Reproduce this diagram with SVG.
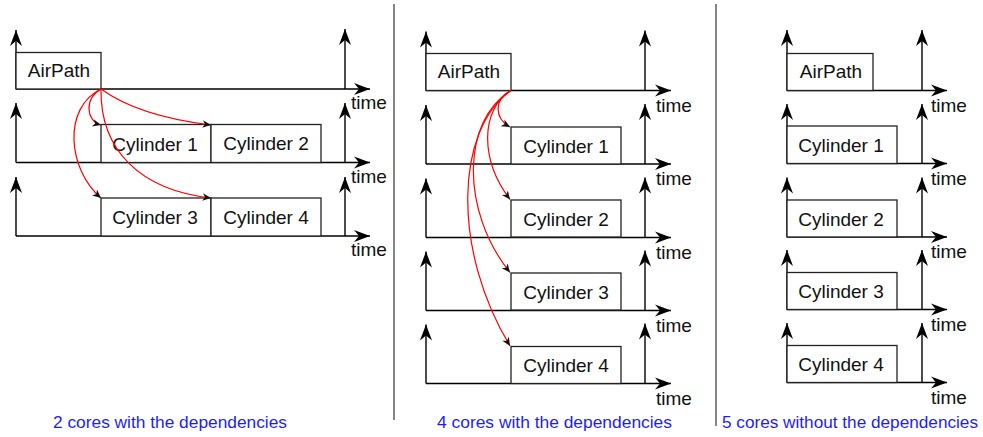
<svg xmlns="http://www.w3.org/2000/svg" width="983" height="437" viewBox="0 0 983 437">
<defs>
<marker id="ax" markerUnits="userSpaceOnUse" markerWidth="20" markerHeight="14" viewBox="-17 -7 18 14" refX="0" refY="0" orient="auto">
<path d="M0,0 L-16,-6 L-11,0 L-16,6 Z" fill="#000"/>
</marker>
<marker id="dep" markerUnits="userSpaceOnUse" markerWidth="10" markerHeight="9" viewBox="-9 -4.5 10 9" refX="0" refY="0" orient="auto">
<path d="M0,0 L-8.5,-3.8 L-6,0 L-8.5,3.8 Z" fill="#111"/>
</marker>
</defs>
<style>
.ax{stroke:#000;stroke-width:1.4;fill:none;marker-end:url(#ax)}
.box{fill:#fff;stroke:#222;stroke-width:1.3}
.lbl{font-family:"Liberation Sans",Arial,sans-serif;font-size:19px;fill:#111;text-anchor:middle}
.time{font-family:"Liberation Sans",Arial,sans-serif;font-size:19px;fill:#111}
.cap{font-family:"Liberation Sans",Arial,sans-serif;font-size:17.3px;fill:#1e1ef0}
.dep{stroke:#f00;stroke-width:1.2;fill:none;marker-end:url(#dep)}
.div{stroke:#444;stroke-width:1.3}
</style>
<rect width="983" height="437" fill="#fff"/>

<g id="dividers">
<line class="div" x1="394" y1="4" x2="394" y2="420"/>
<line class="div" x1="716" y1="4" x2="716" y2="426"/>
</g>

<g id="axes">
<!-- panel 1 -->
<path class="ax" d="M16,89 V30"/><path class="ax" d="M16,89 H370"/><path class="ax" d="M345,89 V29"/>
<path class="ax" d="M16,162.5 V103"/><path class="ax" d="M16,162.5 H370"/><path class="ax" d="M345,162.5 V103"/>
<path class="ax" d="M16,236 V177"/><path class="ax" d="M16,236 H370"/><path class="ax" d="M345,236 V177"/>
<!-- panel 2 -->
<path class="ax" d="M426,90.5 V31.5"/><path class="ax" d="M426,90.5 H671"/><path class="ax" d="M645,90.5 V30.5"/>
<path class="ax" d="M426,164 V105"/><path class="ax" d="M426,164 H671"/><path class="ax" d="M645,164 V104"/>
<path class="ax" d="M426,237.5 V178.5"/><path class="ax" d="M426,237.5 H671"/><path class="ax" d="M645,237.5 V177.5"/>
<path class="ax" d="M426,310.5 V251.5"/><path class="ax" d="M426,310.5 H671"/><path class="ax" d="M645,310.5 V250.5"/>
<path class="ax" d="M426,383.5 V324.5"/><path class="ax" d="M426,383.5 H671"/><path class="ax" d="M645,383.5 V323.5"/>
<!-- panel 3 -->
<path class="ax" d="M787,90.5 V30"/><path class="ax" d="M787,90.5 H947"/><path class="ax" d="M922,90.5 V30"/>
<path class="ax" d="M787,163.5 V104"/><path class="ax" d="M787,163.5 H947"/><path class="ax" d="M922,163.5 V104"/>
<path class="ax" d="M787,237 V177.5"/><path class="ax" d="M787,237 H947"/><path class="ax" d="M922,237 V177.5"/>
<path class="ax" d="M787,309.5 V250"/><path class="ax" d="M787,309.5 H947"/><path class="ax" d="M922,309.5 V250"/>
<path class="ax" d="M787,382.5 V323"/><path class="ax" d="M787,382.5 H947"/><path class="ax" d="M922,382.5 V323"/>
</g>

<g id="time-labels">
<text class="time" x="351" y="109">time</text>
<text class="time" x="351" y="183">time</text>
<text class="time" x="351" y="256">time</text>
<text class="time" x="656" y="111.5">time</text>
<text class="time" x="656" y="185">time</text>
<text class="time" x="656" y="258.5">time</text>
<text class="time" x="656" y="331.5">time</text>
<text class="time" x="656" y="404.5">time</text>
<text class="time" x="931" y="111.5">time</text>
<text class="time" x="931" y="184.5">time</text>
<text class="time" x="931" y="258">time</text>
<text class="time" x="931" y="330.5">time</text>
<text class="time" x="931" y="403.5">time</text>
</g>

<!-- Panel 1 nodes -->
<g id="p1-airpath"><rect class="box" x="16" y="52.5" width="85" height="36.5"/><text class="lbl" x="59" y="77">AirPath</text></g>
<g id="p1-cyl1"><rect class="box" x="101" y="124.5" width="110" height="38"/><text class="lbl" x="155" y="151">Cylinder 1</text></g>
<g id="p1-cyl2"><rect class="box" x="211" y="124.5" width="110" height="38"/><text class="lbl" x="266" y="150">Cylinder 2</text></g>
<g id="p1-cyl3"><rect class="box" x="101" y="198" width="110" height="38"/><text class="lbl" x="155" y="224">Cylinder 3</text></g>
<g id="p1-cyl4"><rect class="box" x="211" y="198" width="110" height="38"/><text class="lbl" x="266" y="224">Cylinder 4</text></g>

<!-- Panel 2 nodes -->
<g id="p2-airpath"><rect class="box" x="426" y="53.5" width="85" height="37"/><text class="lbl" x="469" y="78">AirPath</text></g>
<g id="p2-cyl1"><rect class="box" x="511" y="127" width="110" height="37"/><text class="lbl" x="566" y="152.5">Cylinder 1</text></g>
<g id="p2-cyl2"><rect class="box" x="511" y="200" width="110" height="37"/><text class="lbl" x="566" y="225.5">Cylinder 2</text></g>
<g id="p2-cyl3"><rect class="box" x="511" y="273" width="110" height="37"/><text class="lbl" x="566" y="298.5">Cylinder 3</text></g>
<g id="p2-cyl4"><rect class="box" x="511" y="346.5" width="110" height="37"/><text class="lbl" x="566" y="372">Cylinder 4</text></g>

<!-- Panel 3 nodes -->
<g id="p3-airpath"><rect class="box" x="787" y="53.5" width="86" height="37"/><text class="lbl" x="831" y="78">AirPath</text></g>
<g id="p3-cyl1"><rect class="box" x="787" y="126" width="110" height="37.5"/><text class="lbl" x="841" y="152">Cylinder 1</text></g>
<g id="p3-cyl2"><rect class="box" x="787" y="200" width="110" height="37"/><text class="lbl" x="841" y="225.5">Cylinder 2</text></g>
<g id="p3-cyl3"><rect class="box" x="787" y="272.5" width="110" height="37"/><text class="lbl" x="841" y="298">Cylinder 3</text></g>
<g id="p3-cyl4"><rect class="box" x="787" y="345.5" width="110" height="37"/><text class="lbl" x="841" y="371">Cylinder 4</text></g>

<g id="connectors">
<path class="dep" d="M101,89 C84,99 86,121 101,125"/>
<path class="dep" d="M101,89 C130,110 170,120 211,125"/>
<path class="dep" d="M101,89 C62,108 68,170 101,198"/>
<path class="dep" d="M101,89 C100,150 140,190 211,198"/>
<path class="dep" d="M511,90.5 C494,99 494,118 510,127"/>
<path class="dep" d="M511,90.5 C480,110 480,160 510,199.5"/>
<path class="dep" d="M511,90.5 C462,120 460,210 510,272.5"/>
<path class="dep" d="M511,90.5 C455,130 452,250 510,346"/>
</g>

<g id="captions">
<text class="cap" x="53" y="428" textLength="234" lengthAdjust="spacingAndGlyphs">2 cores with the dependencies</text>
<text class="cap" x="437" y="428" textLength="235" lengthAdjust="spacingAndGlyphs">4 cores with the dependencies</text>
<text class="cap" x="722" y="428" textLength="256" lengthAdjust="spacingAndGlyphs">5 cores without the dependencies</text>
</g>
</svg>
